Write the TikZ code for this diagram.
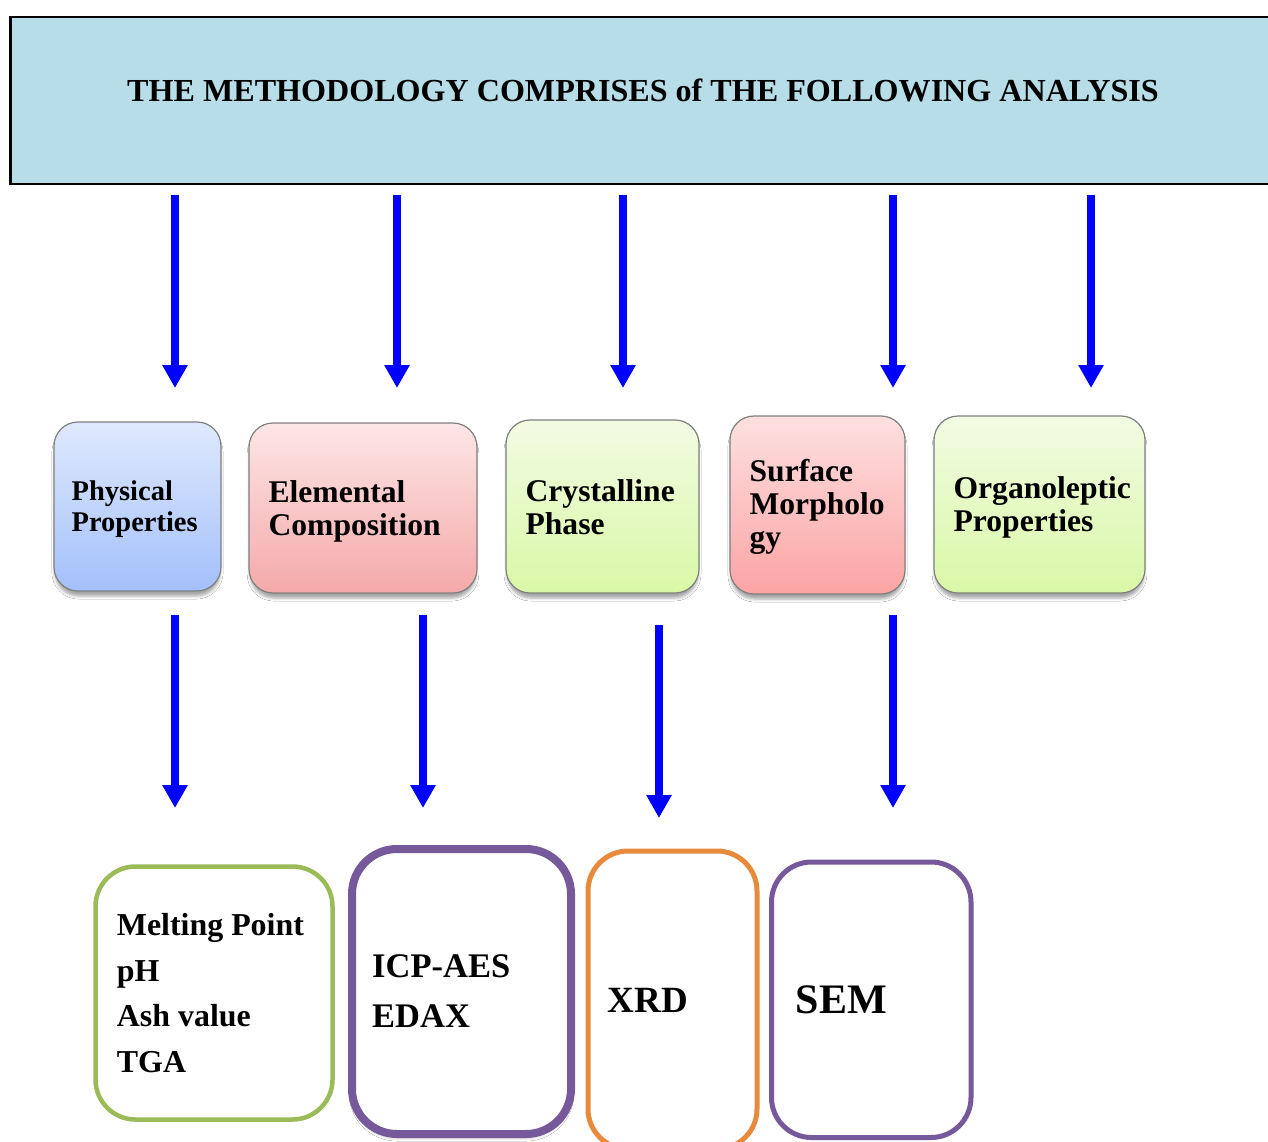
\documentclass[tikz,border=0pt]{standalone}
\usepackage{fontspec}
\setmainfont{Liberation Serif}
\usetikzlibrary{arrows.meta,shadows.blur}
\definecolor{hdrfill}{HTML}{B7DEE8}
\definecolor{midgray}{HTML}{7F7F7F}
\definecolor{arrblue}{HTML}{0000FF}
\definecolor{physTop}{HTML}{DFE9FD}
\definecolor{physBot}{HTML}{A3C0FA}
\definecolor{elemTop}{HTML}{FDE6E6}
\definecolor{elemBot}{HTML}{F4A9A9}
\definecolor{grnTop}{HTML}{F2FBE3}
\definecolor{grnBot}{HTML}{D9F8A6}
\definecolor{surfTop}{HTML}{FDE0E0}
\definecolor{surfBot}{HTML}{FCA4A4}
\definecolor{bxgreen}{HTML}{9BBB59}
\definecolor{bxpurple}{HTML}{76599A}
\definecolor{bxorange}{HTML}{E88A3C}
\begin{document}
\begin{tikzpicture}[x=1pt,y=-1pt,
  hdrbox/.style={draw=black, line width=2.5pt, fill=hdrfill, inner sep=0pt, anchor=north west},
  midbox/.style={draw=midgray, line width=1.2pt, rounded corners=24pt, inner sep=0pt,
    blur shadow={shadow xshift=0pt, shadow yshift=-6pt, shadow blur radius=3pt, shadow opacity=35, shadow scale=0.99}},
  midtxt/.style={anchor=west, align=left, inner sep=0pt, font=\bfseries\fontsize{31.6}{33}\selectfont},
  botbox/.style={rounded corners=40pt, fill=white, inner sep=0pt},
  bottxt/.style={anchor=west, align=left, inner sep=0pt},
  arr/.style={draw=arrblue, line width=8pt, -{Triangle[width=24pt,length=23pt]}}]
\clip (0,0) rectangle (1268,1142);
\fill[white] (0,0) rectangle (1268,1142);

% header
\node[hdrbox, minimum width=1275pt, minimum height=167pt] (hdr) at (9,16) {};
\node[inner sep=0pt, font=\bfseries\fontsize{32.1}{34}\selectfont] (title) at (643,90)
  {THE METHODOLOGY COMPRISES of THE FOLLOWING ANALYSIS};

% top arrows
\foreach \n/\x in {1/175,2/397,3/623,4/893,5/1091}{
  \coordinate (t\n s) at (\x,195);
  \coordinate (t\n e) at (\x,388);
  \draw[arr] (t\n s) -- (t\n e);
}

% middle boxes
\node[midbox, top color=physTop, bottom color=physBot, minimum width=167pt, minimum height=169pt] (phys) at (137.5,506.5) {};
\node[midbox, top color=elemTop, bottom color=elemBot, minimum width=228pt, minimum height=170pt] (elem) at (363,508) {};
\node[midbox, top color=grnTop, bottom color=grnBot, minimum width=193pt, minimum height=173pt] (cryst) at (602.5,506.5) {};
\node[midbox, top color=surfTop, bottom color=surfBot, minimum width=175pt, minimum height=178pt] (surf) at (817.5,505) {};
\node[midbox, top color=grnTop, bottom color=grnBot, minimum width=211pt, minimum height=177pt] (org) at (1039.5,504.5) {};

\node[midtxt, font=\bfseries\fontsize{28.5}{31}\selectfont] (physT) at ([xshift=18pt,yshift=-3pt]phys.west) {Physical\\Properties};
\node[midtxt] (elemT) at ([xshift=20pt,yshift=-3pt]elem.west) {Elemental\\Composition};
\node[midtxt] (crystT) at ([xshift=20pt,yshift=-1pt]cryst.west) {Crystalline\\Phase};
\node[midtxt] (surfT) at ([xshift=20pt,yshift=-2pt]surf.west) {Surface\\Morpholo\\gy};
\node[midtxt] (orgT) at ([xshift=20pt,yshift=-3pt]org.west) {Organoleptic\\Properties};

% bottom arrows
\foreach \n/\x/\ya/\yb in {1/175/615/808,2/423/615/808,3/659/625/818,4/893/615/808}{
  \coordinate (b\n s) at (\x,\ya);
  \coordinate (b\n e) at (\x,\yb);
  \draw[arr] (b\n s) -- (b\n e);
}

% bottom boxes
\node[botbox, draw=bxgreen, line width=4.5pt, minimum width=237pt, minimum height=253pt] (mp) at (214,993) {};
\node[botbox, draw=bxpurple, line width=8pt, minimum width=219pt, minimum height=285pt, rounded corners=45pt,
  blur shadow={shadow xshift=0pt, shadow yshift=-4pt, shadow blur radius=3pt, shadow opacity=25}] (icp) at (461.5,991.5) {};
\node[botbox, draw=bxorange, line width=5pt, minimum width=169pt, minimum height=298pt] (xrd) at (672.5,1000) {};
\node[botbox, draw=bxpurple, line width=5pt, minimum width=199.5pt, minimum height=275.5pt] (sem) at (871.25,999.75) {};

\node[bottxt, font=\bfseries\fontsize{31.9}{45.7}\selectfont] (mpT) at ([xshift=23.5pt]mp.west) {Melting Point\\pH\\Ash value\\TGA};
\node[bottxt, font=\bfseries\fontsize{34.5}{50}\selectfont] (icpT) at ([xshift=24pt]icp.west) {ICP-AES\\EDAX};
\node[bottxt, font=\bfseries\fontsize{37}{40}\selectfont] (xrdT) at ([xshift=22pt]xrd.west) {XRD};
\node[bottxt, font=\bfseries\fontsize{42}{45}\selectfont] (semT) at ([xshift=26.5pt]sem.west) {SEM};
\end{tikzpicture}
\end{document}
